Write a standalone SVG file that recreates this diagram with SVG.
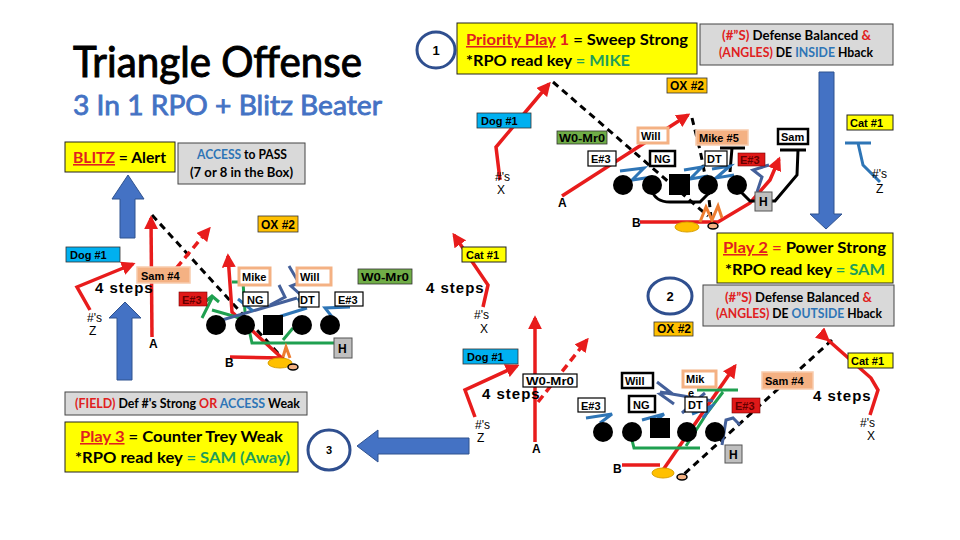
<svg xmlns="http://www.w3.org/2000/svg" width="960" height="540" viewBox="0 0 960 540">
<defs>
<style>
.t{font-family:Lato,"Liberation Sans",sans-serif;font-weight:bold;fill:#000}
.l{font-family:"Liberation Sans",Arial,sans-serif;font-weight:bold;font-size:11px;fill:#000}
.s{font-family:"Liberation Sans",Arial,sans-serif;font-size:12px;fill:#000}
.st{font-family:"Liberation Sans",Arial,sans-serif;font-weight:bold;font-size:15px;fill:#000;letter-spacing:1px}
.red{fill:#E02020}
.blu{fill:#2E75B6}
.grt{fill:#1E9E5A}
.by{fill:#FFFF00;stroke:#222;stroke-width:1}
.bg{fill:#D9D9D9;stroke:#444;stroke-width:1}
.bo{fill:#FFC000;stroke:#333;stroke-width:.8}
.bb{fill:#00B0F0;stroke:#333;stroke-width:.8}
.bgr{fill:#70AD47;stroke:#333;stroke-width:.8}
.bp{fill:#F4B183;stroke:#F8CBAD;stroke-width:1.5}
.bw{fill:#fff;stroke:#000;stroke-width:1.2}
.bwk{fill:#fff;stroke:#000;stroke-width:2.5}
.bwo{fill:#fff;stroke:#F4B183;stroke-width:3}
.br{fill:#E01818;stroke:#700;stroke-width:.6}
.bh{fill:#BFBFBF;stroke:#555;stroke-width:1}
.circ{fill:#fff;stroke:#2F4F8F;stroke-width:3}
.rt{stroke:#E81C1C;stroke-width:3.5;fill:none}
.rtd{stroke:#E81C1C;stroke-width:3.5;fill:none;stroke-dasharray:8 5}
.dsh{stroke:#000;stroke-width:3;fill:none;stroke-dasharray:7 5}
.bk{stroke:#000;stroke-width:3;fill:none}
.bl{stroke:#2E75B6;stroke-width:3;fill:none}
.dbl{stroke:#44609A;stroke-width:3;fill:none}
.gn{stroke:#1FA050;stroke-width:3;fill:none}
.org{stroke:#ED7D31;stroke-width:3;fill:none}
.arw{fill:#4472C4;stroke:#2F528F;stroke-width:1}
.fb{fill:#FFC000;stroke:#D9A000;stroke-width:1}
</style>
<marker id="ra" viewBox="0 0 10 10" refX="8" refY="5" markerWidth="4" markerHeight="4" orient="auto" markerUnits="strokeWidth"><path d="M0,0 L10,5 L0,10 z" fill="#E81C1C"/></marker>
</defs>
<rect width="960" height="540" fill="#fff"/>

<g id="title">
<text x="73" y="77" class="t" style="font-weight:normal;font-size:42px;stroke:#000;stroke-width:1" textLength="289" lengthAdjust="spacingAndGlyphs">Triangle Offense</text>
<text x="73" y="115" class="t" style="font-weight:normal;font-size:27px;fill:#4472C4;stroke:#4472C4;stroke-width:.8" textLength="309" lengthAdjust="spacingAndGlyphs">3 In 1 RPO + Blitz Beater</text>
</g>

<g id="blitz">
<rect x="65" y="142" width="110" height="30" class="by"/>
<text x="73" y="163" class="t" style="font-size:16px" textLength="93" lengthAdjust="spacingAndGlyphs"><tspan class="red" text-decoration="underline">BLITZ</tspan> = Alert</text>
</g>
<g id="access">
<rect x="178" y="143" width="127" height="41" class="bg"/>
<text x="197" y="159" class="t" style="font-size:12.5px" textLength="90" lengthAdjust="spacingAndGlyphs"><tspan class="blu">ACCESS</tspan> to PASS</text>
<text x="190" y="177" class="t" style="font-size:12.5px" textLength="103" lengthAdjust="spacingAndGlyphs">(7 or 8 in the Box)</text>
</g>

<g id="arrows-big">
<polygon class="arw" points="128,175 144,199 135,199 135,238 120,238 120,199 112,199"/>
<polygon class="arw" points="125,302 141,318 132,318 132,380 117,380 117,318 109,318"/>
<polygon class="arw" points="819,72 834,72 834,214 842,214 826,229 810,214 819,214"/>
<polygon class="arw" points="357,446 378,430 378,438 469,438 469,454 378,454 378,462"/>
</g>

<g id="play1-head">
<ellipse cx="436" cy="50" rx="19" ry="18" class="circ"/>
<text x="436" y="55" class="l" style="font-size:13px" text-anchor="middle">1</text>
<rect x="457" y="23" width="240" height="51" class="by"/>
<text x="466" y="45" class="t" style="font-size:15.5px" textLength="222" lengthAdjust="spacingAndGlyphs"><tspan class="red" text-decoration="underline">Priority Play</tspan><tspan class="red"> 1</tspan> = Sweep Strong</text>
<text x="466" y="66" class="t" style="font-size:15.5px" textLength="164" lengthAdjust="spacingAndGlyphs">*RPO read key <tspan class="grt">= MIKE</tspan></text>
</g>
<g id="play1-def">
<rect x="700" y="24" width="193" height="41" class="bg"/>
<text x="722" y="40" class="t" style="font-size:12.5px" textLength="149" lengthAdjust="spacingAndGlyphs"><tspan class="red">(#”S)</tspan> Defense Balanced <tspan class="red">&amp;</tspan></text>
<text x="719" y="57" class="t" style="font-size:12.5px" textLength="154" lengthAdjust="spacingAndGlyphs"><tspan class="red">(ANGLES)</tspan> DE <tspan class="blu">INSIDE</tspan> Hback</text>
</g>

<g id="connectors">
<path class="dsh" d="M553,82 L708,216"/>
<path class="dsh" d="M692,118 L700,150 L708,190 L711,217"/>
<path class="rt" d="M500,180 L496,147 L549,84" marker-end="url(#ra)"/>
<path class="rt" d="M562,196 L688,115" marker-end="url(#ra)"/>
<path class="rt" d="M640,222 L718,222 L750,203 L770,180 L779,159" marker-end="url(#ra)"/>
<path class="bk" d="M652,190 Q655,202 670,202 L700,202 L708,194"/>
<path class="bk" d="M737,188 L750,201 L775,201 L797,175 L798,150 M780,150 L806,150"/>
<path class="bk" d="M720,148 L745,148 M732,148 L730,172"/>
<path class="bl" d="M620,171 L644,168 L632,180 L652,177"/>
<path class="bl" d="M684,170 L702,167 L690,179 L708,176"/>
<path class="bl" d="M712,169 L730,166 L716,178 L734,175"/>
<path class="dbl" d="M757,192 L762,177 L753,170 L769,165"/>
<path class="bl" d="M880,182 L863,165 L858,143 M845,143 L871,143"/>
<path class="org" d="M700,222 L706,207 L712,220 L718,206 L722,218"/>
<path class="dsh" d="M152,215 L287,363"/>
<path class="rt" d="M90,310 L77,287 L133,264" marker-end="url(#ra)"/>
<path class="rt" d="M152,337 L151,218" marker-end="url(#ra)"/>
<path class="rtd" d="M168,278 L209,229" marker-end="url(#ra)"/>
<path class="rt" d="M284,360 L232,312 L228,256" marker-end="url(#ra)"/>
<path class="rt" d="M230,357 L282,358"/>
<path class="gn" d="M335,343 L252,343 L247,320 L212,310"/>
<path class="gn" d="M283,340 L293,328"/>
<path class="gn" d="M202,318 L212,298 M205,302 L212,296 L219,302"/>
<path class="gn" d="M232,282 L256,282 M243,282 L245,312"/>
<path class="dbl" d="M222,320 L297,298"/>
<path class="dbl" d="M289,266 L299,283 L291,286 L302,296"/>
<path class="dbl" d="M279,285 L285,297 L270,305"/>
<path class="bl" d="M278,317 L307,308 M298,298 L304,310"/>
<path class="bl" d="M333,318 L325,308 L350,307"/>
<path class="bl" d="M238,299 L253,311"/>
<path class="org" d="M283,357 L286,347 L290,358"/>
<path class="rt" d="M483,307 L488,285 L454,235" marker-end="url(#ra)"/>
<path class="rt" d="M475,417 L465,390 L517,366" marker-end="url(#ra)"/>
<path class="rt" d="M535,442 L535,318" marker-end="url(#ra)"/>
<path class="rtd" d="M538,402 L587,340" marker-end="url(#ra)"/>
<path class="dsh" d="M832,340 L682,476"/>
<path class="rt" d="M828,340 L871,378 L878,390 L870,415" marker-start="url(#ra)"/>
<path class="rt" d="M663,470 L735,366" marker-end="url(#ra)"/>
<path class="rt" d="M622,465 L660,465"/>
<path class="gn" d="M632,440 L634,448 L700,448"/>
<path class="gn" d="M697,390 L738,390 M686,446 L707,413 L723,392"/>
<path class="bl" d="M586,418 L612,414 L600,423"/>
<path class="bl" d="M642,420 L664,414 L652,424"/>
<path class="dbl" d="M657,382 L670,392 L660,394 L674,404"/>
<path class="dbl" d="M660,392 L713,401"/>
<path class="bl" d="M692,414 L712,406 L703,418"/>
<path class="dbl" d="M682,413 L705,393"/>
<path class="dbl" d="M722,445 L726,420 L733,418 L740,425"/>
</g>

<g id="p1-dog"><rect x="477" y="113" width="54" height="15" class="bb"/><text x="481" y="125" class="l">Dog #1</text></g>
<g id="p1-w0"><rect x="557" y="131" width="50" height="13" class="bgr"/><text x="559" y="142" class="l" textLength="46" lengthAdjust="spacingAndGlyphs">W0-Mr0</text></g>
<g id="p1-will"><rect x="638" y="128" width="30" height="15" class="bwo"/><text x="641" y="140" class="l">Will</text></g>
<g id="p1-mike"><rect x="696" y="130" width="52" height="15" class="bp"/><text x="699" y="142" class="l">Mike #5</text></g>
<g id="p1-sam"><rect x="778" y="129" width="30" height="15" class="bwk"/><text x="781" y="141" class="l">Sam</text></g>
<g id="p1-cat"><rect x="847" y="115" width="46" height="15" class="by"/><text x="850" y="127" class="l">Cat #1</text></g>
<g id="p1-ox"><rect x="667" y="78" width="40" height="15" class="bo"/><text x="670" y="90" class="l" style="font-size:12px">OX #2</text></g>
<g id="p1-e3"><rect x="588" y="151" width="28" height="15" class="bw"/><text x="591" y="163" class="l">E#3</text></g>
<g id="p1-ng"><rect x="650" y="151" width="25" height="15" class="bwk"/><text x="654" y="163" class="l">NG</text></g>
<g id="p1-dt"><rect x="705" y="151" width="22" height="15" class="bw"/><text x="707" y="163" class="l">DT</text></g>
<g id="p1-e3r"><rect x="738" y="153" width="27" height="13" class="br"/><text x="740" y="164" class="l" style="fill:#600">E#3</text></g>
<g id="p1-line">
<circle cx="623" cy="185" r="10"/><circle cx="652" cy="185" r="10"/><rect x="669" y="174" width="21" height="21"/><circle cx="708" cy="185" r="10"/><circle cx="737" cy="185" r="10"/>
</g>
<g id="p1-h"><rect x="755" y="192" width="17" height="19" class="bh"/><text x="759" y="206" class="l" style="font-size:12px">H</text></g>
<g id="p1-qb"><ellipse cx="687" cy="227" rx="12" ry="5" class="fb"/><ellipse cx="713" cy="226" rx="5" ry="3" fill="#F4B183" stroke="#000" stroke-width="1.5"/></g>
<g id="p1-txt">
<text x="495" y="181" class="s">#'s</text><text x="497" y="194" class="s">X</text>
<text x="558" y="207" class="s" style="font-weight:bold">A</text>
<text x="632" y="227" class="s" style="font-weight:bold">B</text>
<text x="872" y="178" class="s">#'s</text><text x="876" y="193" class="s">Z</text>
</g>

<g id="p3-ox"><rect x="258" y="216" width="40" height="16" class="bo"/><text x="261" y="229" class="l" style="font-size:12px">OX #2</text></g>
<g id="p3-dog"><rect x="66" y="247" width="54" height="15" class="bb"/><text x="70" y="259" class="l">Dog #1</text></g>
<g id="p3-sam"><rect x="137" y="267" width="53" height="16" class="bp"/><text x="141" y="280" class="l">Sam #4</text></g>
<g id="p3-e3r"><rect x="179" y="292" width="28" height="14" class="br"/><text x="182" y="304" class="l" style="fill:#600">E#3</text></g>
<g id="p3-mike"><rect x="239" y="268" width="31" height="17" class="bwo"/><text x="242" y="281" class="l">Mike</text></g>
<g id="p3-ng"><rect x="243" y="292" width="25" height="14" class="bw"/><text x="247" y="304" class="l">NG</text></g>
<g id="p3-will"><rect x="297" y="268" width="34" height="17" class="bwo"/><text x="300" y="281" class="l">Will</text></g>
<g id="p3-dt"><rect x="299" y="292" width="20" height="15" class="bw"/><text x="300" y="304" class="l">DT</text></g>
<g id="p3-e3"><rect x="335" y="292" width="28" height="14" class="bw"/><text x="338" y="304" class="l">E#3</text></g>
<g id="p3-w0"><rect x="358" y="269" width="54" height="15" class="bgr"/><text x="361" y="281" class="l" textLength="48" lengthAdjust="spacingAndGlyphs">W0-Mr0</text></g>
<g id="p3-line">
<circle cx="216" cy="325" r="10"/><circle cx="245" cy="325" r="10"/><rect x="263" y="315" width="20" height="20"/><circle cx="302" cy="325" r="10"/><circle cx="330" cy="325" r="10"/>
</g>
<g id="p3-h"><rect x="334" y="338" width="18" height="20" class="bh"/><text x="338" y="353" class="l" style="font-size:12px">H</text></g>
<g id="p3-qb"><ellipse cx="280" cy="363" rx="12" ry="5" class="fb"/><ellipse cx="293" cy="367" rx="5" ry="3" fill="#F4B183" stroke="#000" stroke-width="1.5"/></g>
<g id="p3-txt">
<text x="95" y="293" class="st">4 steps</text>
<text x="87" y="322" class="s">#'s</text><text x="89" y="335" class="s">Z</text>
<text x="149" y="348" class="s" style="font-weight:bold">A</text>
<text x="225" y="367" class="s" style="font-weight:bold">B</text>
</g>
<g id="mid-cat"><rect x="462" y="247" width="44" height="15" class="by"/><text x="466" y="259" class="l">Cat #1</text></g>
<g id="mid-txt">
<text x="426" y="293" class="st">4 steps</text>
<text x="474" y="319" class="s">#'s</text><text x="480" y="333" class="s">X</text>
</g>

<g id="play2-head">
<rect x="717" y="233" width="176" height="50" class="by"/>
<text x="723" y="253" class="t" style="font-size:15.5px" textLength="163" lengthAdjust="spacingAndGlyphs"><tspan class="red" text-decoration="underline">Play 2</tspan><tspan class="red"> =</tspan> Power Strong</text>
<text x="725" y="275" class="t" style="font-size:15.5px" textLength="160" lengthAdjust="spacingAndGlyphs">*RPO read key <tspan class="grt">= SAM</tspan></text>
</g>
<g id="play2-def">
<rect x="703" y="285" width="191" height="41" class="bg"/>
<text x="725" y="302" class="t" style="font-size:12.5px" textLength="147" lengthAdjust="spacingAndGlyphs"><tspan class="red">(#”S)</tspan> Defense Balanced <tspan class="red">&amp;</tspan></text>
<text x="716" y="318" class="t" style="font-size:12.5px" textLength="166" lengthAdjust="spacingAndGlyphs"><tspan class="red">(ANGLES)</tspan> DE <tspan class="blu">OUTSIDE</tspan> Hback</text>
</g>
<g id="play2-num"><ellipse cx="670" cy="296" rx="22" ry="18" class="circ"/><text x="670" y="301" class="l" style="font-size:13px" text-anchor="middle">2</text></g>
<g id="p2-ox"><rect x="654" y="322" width="39" height="14" class="bo"/><text x="657" y="333" class="l" style="font-size:12px">OX #2</text></g>
<g id="p2-dog"><rect x="463" y="349" width="55" height="15" class="bb"/><text x="467" y="361" class="l">Dog #1</text></g>
<g id="p2-w0"><rect x="523" y="374" width="54" height="13" class="bw"/><text x="526" y="385" class="l" textLength="48" lengthAdjust="spacingAndGlyphs">W0-Mr0</text></g>
<g id="p2-will"><rect x="622" y="373" width="31" height="15" class="bwk"/><text x="625" y="385" class="l">Will</text></g>
<g id="p2-mike"><rect x="683" y="371" width="33" height="16" class="bwo"/><text x="686" y="383" class="l">Mik</text><text x="688" y="397" class="l">e</text></g>
<g id="p2-e3"><rect x="578" y="398" width="27" height="14" class="bw"/><text x="581" y="410" class="l">E#3</text></g>
<g id="p2-ng"><rect x="629" y="396" width="26" height="16" class="bwk"/><text x="633" y="409" class="l">NG</text></g>
<g id="p2-dt"><rect x="685" y="397" width="22" height="15" class="bw"/><text x="688" y="409" class="l">DT</text></g>
<g id="p2-e3r"><rect x="732" y="398" width="28" height="15" class="br"/><text x="735" y="410" class="l" style="fill:#600">E#3</text></g>
<g id="p2-sam"><rect x="762" y="372" width="51" height="17" class="bp"/><text x="765" y="385" class="l">Sam #4</text></g>
<g id="p2-cat"><rect x="848" y="353" width="45" height="15" class="by"/><text x="851" y="365" class="l">Cat #1</text></g>
<g id="p2-line">
<circle cx="603" cy="432" r="10"/><circle cx="632" cy="432" r="10"/><rect x="650" y="418" width="20" height="20"/><circle cx="687" cy="432" r="10"/><circle cx="715" cy="432" r="10"/>
</g>
<g id="p2-h"><rect x="725" y="445" width="17" height="18" class="bh"/><text x="729" y="459" class="l" style="font-size:12px">H</text></g>
<g id="p2-qb"><ellipse cx="663" cy="473" rx="11" ry="5" class="fb"/><ellipse cx="682" cy="477" rx="5" ry="3" fill="#F4B183" stroke="#000" stroke-width="1.5"/></g>
<g id="p2-txt">
<text x="482" y="399" class="st">4 steps</text>
<text x="475" y="429" class="s">#'s</text><text x="477" y="442" class="s">Z</text>
<text x="532" y="453" class="s" style="font-weight:bold">A</text>
<text x="613" y="473" class="s" style="font-weight:bold">B</text>
<text x="813" y="401" class="st">4 steps</text>
<text x="860" y="427" class="s">#'s</text><text x="867" y="440" class="s">X</text>
</g>

<g id="play3-field">
<rect x="65" y="392" width="242" height="23" class="bg"/>
<text x="75" y="408" class="t" style="font-size:12.5px" textLength="225" lengthAdjust="spacingAndGlyphs"><tspan class="red">(FIELD)</tspan> Def #'s Strong <tspan class="red">OR</tspan> <tspan class="blu">ACCESS</tspan> Weak</text>
</g>
<g id="play3-head">
<rect x="65" y="422" width="233" height="50" class="by"/>
<text x="80" y="442" class="t" style="font-size:15.5px" textLength="203" lengthAdjust="spacingAndGlyphs"><tspan class="red" text-decoration="underline">Play 3</tspan> = Counter Trey Weak</text>
<text x="75" y="463" class="t" style="font-size:15.5px" textLength="215" lengthAdjust="spacingAndGlyphs">*RPO read key <tspan class="grt">= SAM (Away)</tspan></text>
</g>
<g id="play3-num"><ellipse cx="329" cy="450" rx="21" ry="20" class="circ"/><text x="329" y="454" class="l" style="font-size:11px" text-anchor="middle">3</text></g>
</svg>
